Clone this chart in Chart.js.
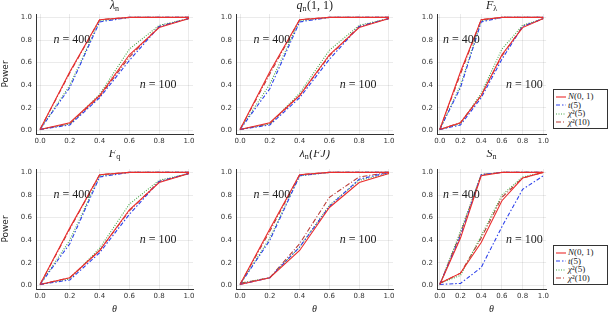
<!DOCTYPE html>
<html>
<head>
<meta charset="utf-8">
<script src="https://cdn.jsdelivr.net/npm/chart.js@4.4.0/dist/chart.umd.min.js"></script>
<style>
body { margin: 0; background: #fff; width: 608px; height: 316px; position: relative; overflow: hidden; }
.panel { position: absolute; }
.legend { position: absolute; border: 1px solid #333; background: #fff; padding: 2px 2px 2px 2px;
  font: 9px "Liberation Serif", "DejaVu Serif", serif; color: #222; width: 49px; }
.legend div { height: 8.5px; line-height: 8.5px; white-space: nowrap; }
.legend svg { vertical-align: middle; margin-right: 2px; }
</style>
</head>
<body>
<div class="panel" style="left:0;top:0;width:200px;height:150px"><canvas id="c1"></canvas></div>
<div class="panel" style="left:200px;top:0;width:200px;height:150px"><canvas id="c2"></canvas></div>
<div class="panel" style="left:400px;top:0;width:152px;height:150px"><canvas id="c3"></canvas></div>
<div class="panel" style="left:0;top:150px;width:200px;height:166px"><canvas id="c4"></canvas></div>
<div class="panel" style="left:200px;top:150px;width:200px;height:166px"><canvas id="c5"></canvas></div>
<div class="panel" style="left:400px;top:150px;width:152px;height:166px"><canvas id="c6"></canvas></div>
<div class="legend" id="leg1" style="left:553px;top:89px"></div>
<div class="legend" id="leg2" style="left:553px;top:245px"></div>
<script>
'use strict';

// theta grid and tick labels
var theta = [0, 0.2, 0.4, 0.6, 0.8, 1.0];
var tickVals = [0, 0.2, 0.4, 0.6, 0.8, 1.0];
var seriesNames = ['N(0, 1)', 't(5)', 'χ²(5)', 'χ²(10)'];

// each array: [N(0,1), t(5), chi2(5), chi2(10)]
var lambda400 = [
	[0.01, 0.52, 0.98, 1.00, 1.00, 1.00],
	[0.01, 0.38, 0.96, 1.00, 1.00, 1.00],
	[0.01, 0.40, 0.97, 1.00, 1.00, 1.00],
	[0.01, 0.51, 0.98, 1.00, 1.00, 1.00]
];
var lambda100 = [
	[0.01, 0.07, 0.31, 0.67, 0.91, 0.99],
	[0.01, 0.05, 0.29, 0.62, 0.92, 0.99],
	[0.01, 0.06, 0.32, 0.72, 0.93, 0.99],
	[0.01, 0.06, 0.30, 0.65, 0.92, 0.99]
];
var qn400 = [
	[0.01, 0.52, 0.98, 1.00, 1.00, 1.00],
	[0.01, 0.37, 0.96, 1.00, 1.00, 1.00],
	[0.01, 0.41, 0.97, 1.00, 1.00, 1.00],
	[0.01, 0.50, 0.98, 1.00, 1.00, 1.00]
];
var qn100 = [
	[0.01, 0.07, 0.31, 0.67, 0.91, 0.99],
	[0.01, 0.05, 0.29, 0.63, 0.92, 0.99],
	[0.01, 0.06, 0.33, 0.71, 0.93, 0.99],
	[0.01, 0.06, 0.31, 0.66, 0.92, 0.99]
];
var flambda400 = [
	[0.01, 0.52, 0.98, 1.00, 1.00, 1.00],
	[0.01, 0.38, 0.96, 1.00, 1.00, 1.00],
	[0.01, 0.40, 0.97, 1.00, 1.00, 1.00],
	[0.01, 0.50, 0.98, 1.00, 1.00, 1.00]
];
var flambda100 = [
	[0.01, 0.07, 0.31, 0.67, 0.91, 0.99],
	[0.01, 0.05, 0.29, 0.63, 0.92, 0.99],
	[0.01, 0.06, 0.33, 0.72, 0.93, 0.99],
	[0.01, 0.07, 0.31, 0.66, 0.92, 0.99]
];
var fq400 = [
	[0.01, 0.51, 0.98, 1.00, 1.00, 1.00],
	[0.01, 0.37, 0.96, 1.00, 1.00, 1.00],
	[0.01, 0.40, 0.97, 1.00, 1.00, 1.00],
	[0.01, 0.50, 0.98, 1.00, 1.00, 1.00]
];
var fq100 = [
	[0.01, 0.07, 0.31, 0.67, 0.91, 0.99],
	[0.01, 0.05, 0.29, 0.63, 0.92, 0.99],
	[0.01, 0.06, 0.33, 0.72, 0.93, 0.99],
	[0.01, 0.07, 0.31, 0.66, 0.92, 0.99]
];
var fj400 = [
	[0.01, 0.50, 0.98, 1.00, 1.00, 1.00],
	[0.01, 0.40, 0.97, 1.00, 1.00, 1.00],
	[0.01, 0.42, 0.97, 1.00, 1.00, 1.00],
	[0.01, 0.48, 0.98, 1.00, 1.00, 1.00]
];
var fj100 = [
	[0.01, 0.07, 0.31, 0.69, 0.91, 0.99],
	[0.01, 0.07, 0.34, 0.70, 0.94, 1.00],
	[0.02, 0.07, 0.34, 0.71, 0.93, 0.99],
	[0.02, 0.07, 0.37, 0.78, 0.96, 1.00]
];
var sn400 = [
	[0.01, 0.42, 0.97, 1.00, 1.00, 1.00],
	[0.01, 0.44, 0.98, 1.00, 1.00, 1.00],
	[0.01, 0.48, 0.98, 1.00, 1.00, 1.00],
	[0.01, 0.46, 0.98, 1.00, 1.00, 1.00]
];
var sn100 = [
	[0.02, 0.11, 0.38, 0.75, 0.95, 1.00],
	[0.01, 0.02, 0.16, 0.52, 0.85, 0.97],
	[0.02, 0.09, 0.44, 0.80, 0.96, 1.00],
	[0.02, 0.11, 0.42, 0.78, 0.95, 1.00]
];

var lineColors = ['rgb(235,45,45)', 'rgb(45,65,235)', 'rgb(70,165,70)', 'rgb(185,60,55)'];
var lineDashes = [[], [4, 2, 1.5, 2], [1, 1.5], [5, 2, 1, 2]];

// draws the math-style title and the "n = ..." notes
var mathText = {
	id: 'mathText',
	afterDatasetsDraw: function(chart, args, opts) {
		var ctx = chart.ctx;
		var xs = chart.scales.x, ys = chart.scales.y;
		ctx.save();
		ctx.fillStyle = '#222';
		ctx.textBaseline = 'middle';
		ctx.textAlign = 'left';
		// title: main, subscript, suffix
		var t = opts.title;
		ctx.font = 'italic 12px "Liberation Serif"';
		var w1 = ctx.measureText(t[0]).width;
		ctx.font = '8px "Liberation Serif"';
		var w2 = ctx.measureText(t[1]).width;
		ctx.font = (opts.suffixItalic ? 'italic ' : '') + '12px "Liberation Serif"';
		var w3 = ctx.measureText(t[2]).width;
		var cx = (xs.getPixelForValue(0) + xs.getPixelForValue(1)) / 2;
		var x0 = cx - (w1 + w2 + w3) / 2;
		var ty = opts.titleY;
		ctx.font = 'italic 12px "Liberation Serif"';
		ctx.fillText(t[0], x0, ty);
		ctx.font = '8px "Liberation Serif"';
		ctx.fillText(t[1], x0 + w1, ty + 3);
		ctx.font = (opts.suffixItalic ? 'italic ' : '') + '12px "Liberation Serif"';
		ctx.fillText(t[2], x0 + w1 + w2 + 0.5, ty);
		// n = 400 / n = 100 notes
		opts.notes.forEach(function(n) {
			var x = xs.getPixelForValue(n[0]), y = ys.getPixelForValue(n[1]);
			ctx.font = 'italic 12px "Liberation Serif"';
			ctx.fillText('n', x, y);
			var w = ctx.measureText('n').width;
			ctx.font = '12px "Liberation Serif"';
			ctx.fillText(' = ' + n[2], x + w, y);
		});
		ctx.restore();
	}
};

function makeSets(d400, d100) {
	var sets = [];
	[d400, d100].forEach(function(group) {
		group.forEach(function(vals, s) {
			sets.push({
				label: seriesNames[s],
				data: theta.map(function(t, i) { return {x: t, y: vals[i]}; }),
				borderColor: lineColors[s],
				borderDash: lineDashes[s],
				borderWidth: 1.1,
				pointRadius: 0,
				tension: 0,
				fill: false
			});
		});
	});
	return sets;
}

var panels = [
	{id: 'c1', title: ['λ', 'n', ''], d400: lambda400, d100: lambda100, top: true, col: 0},
	{id: 'c2', title: ['q', 'n', '(1, 1)'], d400: qn400, d100: qn100, top: true, col: 1},
	{id: 'c3', title: ['F', 'λ', ''], d400: flambda400, d100: flambda100, top: true, col: 2},
	{id: 'c4', title: ['F', 'q', ''], d400: fq400, d100: fq100, top: false, col: 0},
	{id: 'c5', title: ['λ', 'n', '(FJ)'], d400: fj400, d100: fj100, top: false, col: 1, suffixItalic: true},
	{id: 'c6', title: ['S', 'n', ''], d400: sn400, d100: sn100, top: false, col: 2}
];

panels.forEach(function(p) {
	var yW = p.col === 2 ? 37 : 36;
	var padRight = p.col === 2 ? 4 : 7;
	var xH = p.top ? 16 : 27;
	var padTop = p.top ? 14 : 19;
	var notes = p.col === 2 ? [[0.03, 0.8, 400], [0.64, 0.4, 100]] : [[0.09, 0.8, 400], [0.67, 0.4, 100]];
	new Chart(document.getElementById(p.id), {
		type: 'line',
		data: {datasets: makeSets(p.d400, p.d100)},
		plugins: [mathText],
		options: {
			responsive: true,
			maintainAspectRatio: false,
			animation: false,
			layout: {padding: {left: 0, right: padRight, top: padTop, bottom: 0}},
			plugins: {
				legend: {display: false},
				tooltip: {enabled: false},
				mathText: {title: p.title, titleY: p.top ? 6 : 4, notes: notes, suffixItalic: !!p.suffixItalic}
			},
			scales: {
				x: {
					type: 'linear',
					min: -0.027, max: 1.027,
					afterBuildTicks: function(s) { s.ticks = tickVals.map(function(v) { return {value: v}; }); },
					afterFit: function(s) { s.height = xH; },
					grid: {color: 'rgba(0,0,0,0.08)', drawTicks: false},
					border: {color: '#333', width: 1},
					ticks: {padding: 3, color: '#333', font: {family: 'DejaVu Sans', size: 7},
						callback: function(v) { return v.toFixed(1); }},
					title: {display: !p.top, text: 'θ', color: '#222', padding: {top: 0, bottom: 1},
						font: {family: 'Liberation Serif', style: 'italic', size: 10}}
				},
				y: {
					min: -0.03, max: 1.03,
					afterBuildTicks: function(s) { s.ticks = tickVals.map(function(v) { return {value: v}; }); },
					afterFit: function(s) { s.width = yW; },
					grid: {color: 'rgba(0,0,0,0.08)', drawTicks: false},
					border: {color: '#333', width: 1},
					ticks: {padding: 4, color: '#333', font: {family: 'DejaVu Sans', size: 7},
						callback: function(v) { return v.toFixed(1); }},
					title: {display: p.col === 0, text: 'Power', color: '#222', padding: 0,
						font: {family: 'DejaVu Sans', size: 9}}
				}
			}
		}
	});
});

// legends (boxed, right of the third column)
function buildLegend(el) {
	var html = '';
	seriesNames.forEach(function(name, s) {
		var dash = lineDashes[s].join(',');
		html += '<div><svg width="10" height="4"><line x1="0" y1="2" x2="10" y2="2" stroke="' + lineColors[s] +
			'" stroke-width="1.1"' + (dash ? ' stroke-dasharray="' + dash + '"' : '') + '/></svg>' +
			'<i>' + name.charAt(0) + '</i>' + name.slice(1) + '</div>';
	});
	el.innerHTML = html;
}
buildLegend(document.getElementById('leg1'));
buildLegend(document.getElementById('leg2'));
</script>
</body>
</html>
